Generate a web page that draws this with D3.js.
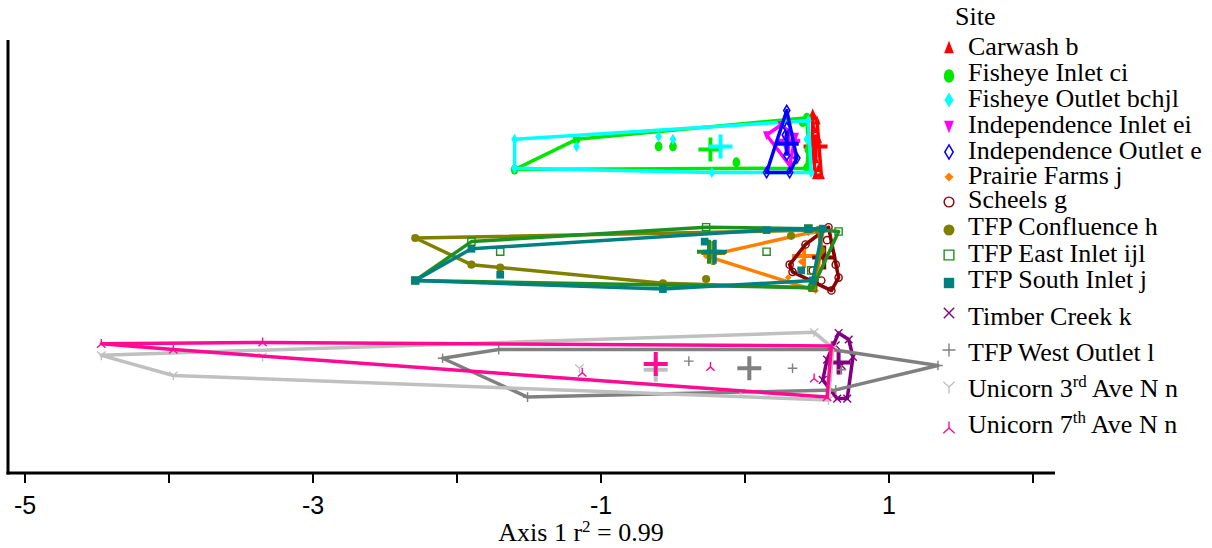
<!DOCTYPE html>
<html><head><meta charset="utf-8">
<script src="https://cdn.jsdelivr.net/npm/d3@7"></script>
<style>body{margin:0;background:#fff}svg{display:block}
.serif{font-family:"Liberation Serif","Times New Roman",Times,serif}
.sans{font-family:"Liberation Sans",Arial,Helvetica,sans-serif}</style>
</head><body>
<script>
// ---- data (Axis 1 / Axis 2 ordination scores) ----
const siteNames = ["Carwash b","Fisheye Inlet ci","Fisheye Outlet bchjl","Independence Inlet ei","Independence Outlet e","Prairie Farms j","Scheels g","TFP Confluence h","TFP East Inlet ijl","TFP South Inlet j","Timber Creek k","TFP West Outlet l","Unicorn 3rd Ave N n","Unicorn 7th Ave N n"];
const carwash = [[0.47,0.99],[0.50,0.94],[0.48,0.88],[0.51,0.81],[0.47,0.74],[0.49,0.67],[0.51,0.61],[0.49,0.56],[0.53,0.56]];
const fisheyeInlet = [[-1.60,0.60],[-1.17,0.81],[-0.60,0.76],[-0.50,0.76],[-0.06,0.65],[0.43,0.96],[0.44,0.74],[0.43,0.61],[0.40,0.93]];
const fisheyeOutlet = [[-1.60,0.81],[-1.60,0.61],[-1.17,0.76],[-0.60,0.83],[-0.50,0.81],[-0.23,0.58],[0.44,0.94],[0.46,0.58],[0.43,0.81]];
const indepInlet = [[0.15,0.84],[0.25,0.91],[0.35,0.83],[0.31,0.63],[0.29,0.74],[0.28,0.81]];
const indepOutlet = [[0.29,1.01],[0.15,0.58],[0.31,0.58],[0.36,0.68],[0.29,0.89],[0.28,0.84],[0.29,0.70]];
const prairieFarms = [[-0.27,0.00],[0.44,0.16],[0.54,0.17],[0.49,-0.24],[0.30,-0.15],[0.39,-0.04]];
const scheels = [[0.58,0.20],[0.31,-0.06],[0.33,-0.11],[0.42,0.08],[0.60,0.01],[0.63,-0.06],[0.65,-0.15],[0.60,-0.24],[0.53,-0.17],[0.47,-0.10],[0.57,0.11]];
const tfpConfluence = [[-2.29,0.125],[-1.90,-0.06],[-1.70,-0.08],[-0.57,-0.19],[-0.27,-0.16],[0.46,-0.22],[0.32,0.14],[0.51,0.18],[0.53,0.04]];
const tfpEastInlet = [[-2.29,-0.17],[-1.90,0.10],[-1.70,0.03],[-0.27,0.20],[0.15,0.03],[0.65,0.17],[0.46,-0.10],[0.47,-0.22],[0.44,0.19]];
const tfpSouthInlet = [[-2.29,-0.17],[-1.90,0.05],[-1.70,-0.13],[-0.57,-0.23],[-0.28,0.10],[0.15,0.18],[0.44,0.19],[0.54,0.19],[0.47,-0.17],[0.39,-0.10]];
const timberCreek = [[0.65,-0.535],[0.72,-0.58],[0.75,-0.70],[0.71,-0.99],[0.64,-0.99],[0.54,-0.86],[0.57,-0.72],[0.67,-0.76],[0.63,-0.62]];
const tfpWestOutlet = [[-2.10,-0.71],[-1.71,-0.65],[-1.51,-0.98],[-0.39,-0.73],[0.33,-0.78],[1.34,-0.76],[0.60,-0.65],[0.63,-0.93],[0.67,-0.79]];
const unicorn3rd = [[-4.47,-0.69],[-3.97,-0.83],[-3.35,-0.70],[0.48,-0.53],[0.61,-0.64],[0.58,-1.00],[-0.03,-0.95],[-1.15,-0.78]];
const unicorn7th = [[-4.47,-0.61],[-3.35,-0.60],[-3.97,-0.65],[-1.13,-0.81],[-0.24,-0.77],[0.57,-0.98],[0.60,-0.625],[0.48,-0.85]];
const centroids = [[0.49,0.76],[-0.24,0.74],[-0.17,0.76],[0.30,0.80],[0.29,0.78],[0.41,0.00],[0.55,-0.01],[-0.22,0.02],[-0.25,0.03],[-0.21,0.03],[0.65,-0.74],[0.03,-0.78],[-0.62,-0.79],[-0.62,-0.75]];
const xTicks = [-5,-4,-3,-2,-1,0,1,2];
const xTickLabels = ["-5","","-3","","-1","","1",""];

// ---- styles ----
const siteData = [carwash,fisheyeInlet,fisheyeOutlet,indepInlet,indepOutlet,prairieFarms,scheels,tfpConfluence,tfpEastInlet,tfpSouthInlet,timberCreek,tfpWestOutlet,unicorn3rd,unicorn7th];
const siteColors = ["#ff0000","#00e800","#00ffff","#ff00ff","#0000ff","#ff8000","#8b0000","#808000","#1f8f1f","#008080","#800080","#808080","#c0c0c0","#ff0a94"];
const siteShapes = ["triUp","ellipse","diamond","triDown","openDiamond","smallDiamond","openCircle","circle","openSquare","square","x","plus","Y","invY"];

const W = 1212, H = 548;
const svg = d3.select("body").append("svg").attr("width", W).attr("height", H);
const x = d3.scaleLinear().domain([-5, 2]).range([25, 1033]);
const y = d3.scaleLinear().domain([-1.5, 1.5]).range([472, 40]);

function marker(g, shape, color, s) {
  const p = (d) => g.append("path").attr("d", d);
  switch (shape) {
    case "triUp": return p(`M0,${-s*1.1}L${s*0.75},${s*0.8}L${-s*0.75},${s*0.8}Z`).attr("fill", color);
    case "triDown": return p(`M0,${s*1.1}L${s*0.75},${-s*0.8}L${-s*0.75},${-s*0.8}Z`).attr("fill", color);
    case "ellipse": return g.append("ellipse").attr("rx", s*0.8).attr("ry", s*1.05).attr("fill", color);
    case "diamond": return p(`M0,${-s*1.15}L${s*0.7},0L0,${s*1.15}L${-s*0.7},0Z`).attr("fill", color);
    case "openDiamond": return p(`M0,${-s*1.1}L${s*0.65},0L0,${s*1.1}L${-s*0.65},0Z`).attr("fill", "none").attr("stroke", color).attr("stroke-width", 1.5);
    case "smallDiamond": return p(`M0,${-s*0.7}L${s*0.7},0L0,${s*0.7}L${-s*0.7},0Z`).attr("fill", color);
    case "openCircle": return g.append("circle").attr("r", s*0.75).attr("fill", "none").attr("stroke", color).attr("stroke-width", 1.4);
    case "circle": return g.append("circle").attr("r", s*0.85).attr("fill", color);
    case "openSquare": return p(`M${-s*0.75},${-s*0.75}h${s*1.5}v${s*1.5}h${-s*1.5}Z`).attr("fill", "none").attr("stroke", color).attr("stroke-width", 1.4);
    case "square": return p(`M${-s*0.8},${-s*0.8}h${s*1.6}v${s*1.6}h${-s*1.6}Z`).attr("fill", color);
    case "x": return p(`M${-s*0.8},${-s*0.8}L${s*0.8},${s*0.8}M${-s*0.8},${s*0.8}L${s*0.8},${-s*0.8}`).attr("stroke", color).attr("stroke-width", 1.4);
    case "plus": return p(`M${-s},0H${s}M0,${-s}V${s}`).attr("stroke", color).attr("stroke-width", 1.4);
    case "Y": return p(`M0,0V${s}M0,0L${-s*0.87},${-s*0.8}M0,0L${s*0.87},${-s*0.8}`).attr("stroke", color).attr("stroke-width", 1.4).attr("fill", "none");
    case "invY": return p(`M0,0V${-s}M0,0L${-s*0.87},${s*0.8}M0,0L${s*0.87},${s*0.8}`).attr("stroke", color).attr("stroke-width", 1.4).attr("fill", "none");
  }
}

// ---- axes ----
const axisG = svg.append("g");
axisG.append("line").attr("x1", 8).attr("x2", 8).attr("y1", 40).attr("y2", 474.5).attr("stroke", "#000").attr("stroke-width", 3);
axisG.append("line").attr("x1", 6.5).attr("x2", x(2.153)).attr("y1", y(-1.5)+1).attr("y2", y(-1.5)+1).attr("stroke", "#000").attr("stroke-width", 3);
xTicks.forEach((t, i) => {
  axisG.append("line").attr("x1", x(t)).attr("x2", x(t)).attr("y1", y(-1.5)+2).attr("y2", y(-1.5)+11).attr("stroke", "#000").attr("stroke-width", 2);
  if (xTickLabels[i]) axisG.append("text").attr("class", "sans").attr("x", x(t)).attr("y", 514).attr("text-anchor", "middle")
    .attr("font-size", 25).text(xTickLabels[i]);
});
const title = svg.append("text").attr("class", "serif").attr("x", 581).attr("y", 541).attr("text-anchor", "middle")
  .attr("font-size", 26);
title.append("tspan").text("Axis 1 r");
title.append("tspan").attr("dy", -9).attr("font-size", 17).text("2");
title.append("tspan").attr("dy", 9).text(" = 0.99");

// ---- hulls, points, centroids ----
const plot = svg.append("g");
siteData.forEach((pts, i) => {
  const col = siteColors[i];
  const px = pts.map(p => [x(p[0]), y(p[1])]);
  const hull = d3.polygonHull(px);
  plot.append("path").attr("d", "M" + hull.join("L") + "Z").attr("fill", "none")
    .attr("stroke", col).attr("stroke-width", 3.5).attr("stroke-linejoin", "round");
  px.forEach(p => marker(plot.append("g").attr("transform", `translate(${p[0]},${p[1]})`), siteShapes[i], col, 4.8));
  const c = centroids[i];
  plot.append("path").attr("transform", `translate(${x(c[0])},${y(c[1])})`)
    .attr("d", "M-12,0H12M0,-12V12").attr("stroke", col).attr("stroke-width", 4);
});

// ---- legend ----
const lg = svg.append("g");
lg.append("text").attr("class", "serif").attr("font-size", 26).attr("x", 955).attr("y", 25).text("Site");
const symY = [48,76,100,126,152,177,202,230,255,283,313,350,387,428];
const txtY = [55,81,107,133,159,184,208,235,262,288,325,361,397,433];
siteNames.forEach((name, i) => {
  marker(lg.append("g").attr("transform", `translate(949,${symY[i]})`), siteShapes[i], siteColors[i], 6.5);
  const t = lg.append("text").attr("class", "serif").attr("font-size", 26).attr("x", 968).attr("y", txtY[i]);
  const m = name.match(/^(Unicorn \d)(rd|th)( .*)$/);
  if (m) {
    t.append("tspan").text(m[1]);
    t.append("tspan").attr("dy", -10).attr("font-size", 17).text(m[2]);
    t.append("tspan").attr("dy", 10).text(m[3]);
  } else t.text(name);
});
</script>
</body></html>
